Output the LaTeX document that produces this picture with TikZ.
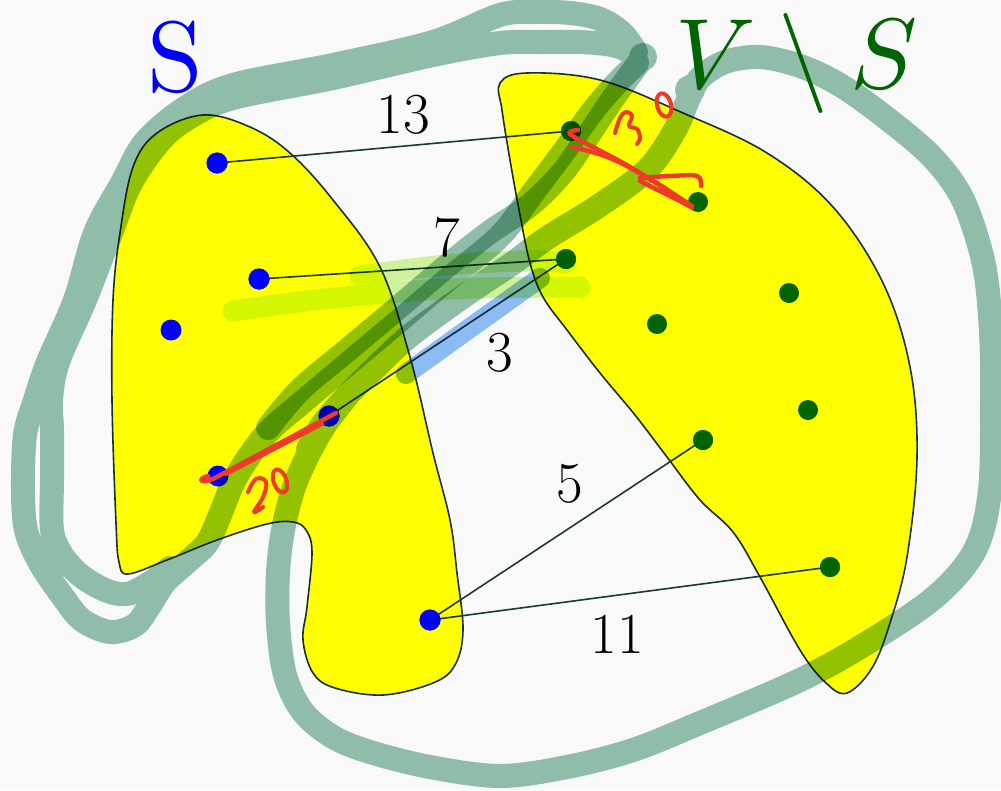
\documentclass[tikz,border=0pt]{standalone}
\usepackage{graphicx}
\definecolor{bgc}{HTML}{F9F9F9}
\definecolor{ylw}{RGB}{255,255,0}
\definecolor{tealpen}{RGB}{147,194,174}
\definecolor{chartpen}{RGB}{212,247,160}
\definecolor{bluepen}{RGB}{143,192,248}
\definecolor{redpen}{RGB}{238,58,43}
\definecolor{edgec}{RGB}{30,55,60}
\definecolor{gdot}{RGB}{0,100,0}
\definecolor{bdot}{RGB}{0,0,255}
\definecolor{outl}{RGB}{28,48,52}
\begin{document}
\begin{tikzpicture}[x=1pt,y=-1pt,
  blob/.style={fill=ylw, draw=outl, line width=1.6pt},
  dotb/.style={circle, fill=bdot, minimum size=21pt, inner sep=0pt},
  dotg/.style={circle, fill=gdot, minimum size=20pt, inner sep=0pt},
  wedge/.style={draw=edgec, line width=1.6pt},
  hl/.style={line width=24pt, line cap=round, line join=round},
  pen/.style={draw=redpen, line width=4.5pt, line cap=round, line join=round},
  num/.style={font=\fontsize{58}{60}\selectfont, inner sep=0pt, anchor=base},
  big/.style={inner sep=0pt, anchor=base}]
\fill[bgc] (0,0) rectangle (1001,790);
\useasboundingbox (0,0) rectangle (1001,790);

% blobs
\draw[blob] plot[smooth cycle, tension=0.6] coordinates {(203,115) (250,127) (290,153) (333,200) (380,267) (410,357) (433,453) (450,520) (457,573) (463,630) (455,665) (433,683) (383,695) (335,688) (313,673) (303,640) (307,607) (312,552) (306,530) (293,522) (267,524) (217,540) (167,560) (128,574) (119,562) (116,523) (112,400) (113,300) (120,233) (133,167) (157,133)};
\draw[blob] plot[smooth cycle, tension=0.6] coordinates {(500,83) (527,73) (600,80) (683,113) (767,153) (833,207) (883,283) (910,367) (917,457) (907,557) (890,623) (872,668) (847,693) (826,683) (800,650) (760,577) (733,532) (700,500) (667,457) (635,415) (600,373) (567,330) (543,297) (530,263) (520,215) (510,160) (502,110)};

% vertices
\node[dotb] (b1) at (217,163) {};
\node[dotb] (b2) at (259,279) {};
\node[dotb] (b3) at (171,330) {};
\node[dotb] (b4) at (329,416) {};
\node[dotb] (b5) at (218,476) {};
\node[dotb] (b6) at (430,620) {};
\node[dotg] (g1) at (571,131) {};
\node[dotg] (g2) at (698,202) {};
\node[dotg] (g3) at (566,259) {};
\node[dotg] (g4) at (789,293) {};
\node[dotg] (g5) at (657,324) {};
\node[dotg] (g6) at (808,410) {};
\node[dotg] (g7) at (703,440) {};
\node[dotg] (g8) at (830,567) {};

% edges
\draw[wedge] (b1.center) -- (g1.center);
\draw[wedge] (b2.center) -- (g3.center);
\draw[wedge] (b4.center) -- (g3.center);
\draw[wedge] (b6.center) -- (g7.center);
\draw[wedge] (b6.center) -- (g8.center);
\node[dotb] at (b1) {};
\node[dotb] at (b2) {};
\node[dotb] at (b4) {};
\node[dotb] at (b6) {};
\node[dotg] at (g1) {};
\node[dotg] at (g3) {};
\node[dotg] at (g7) {};
\node[dotg] at (g8) {};

% highlighter strokes
\begin{scope}[blend mode=multiply]
\draw[hl, draw=chartpen, line width=21pt] plot[smooth, tension=0.6] coordinates {(233,311) (333,298) (447,289) (580,287)}
  plot[smooth, tension=0.6] coordinates {(360,276) (447,265) (530,261) (565,263)};
\draw[hl, draw=bluepen, line width=20pt] plot[smooth, tension=0.6] coordinates {(406,374) (470,328) (540,278)};
% left loop, stroke A
\draw[hl, draw=tealpen] plot[smooth, tension=0.55] coordinates {(636,52) (622,33) (600,19) (570,13) (535,12) (500,15) (433,42) (333,65) (233,85) (185,108) (145,142) (122,183) (95,233) (75,300) (48,362) (35,400) (25,435) (23,490) (26,530) (40,563) (63,597) (82,620) (110,632) (135,625) (150,605) (165,582) (187,562) (207,543) (220,515) (233,483) (250,455) (270,430) (305,400) (350,362) (400,320) (447,280) (500,236) (535,190) (565,150) (592,112) (615,85) (637,63)}
  plot[smooth, tension=0.55] coordinates {(637,63) (630,52) (612,45) (580,42) (540,42) (500,43) (433,55) (333,78) (233,98) (190,117) (161,140) (131,183) (111,233) (85,300) (58,362) (51,400) (52,430) (52,480) (52,530) (62,555) (80,575) (105,590) (127,594) (150,583) (170,568)};
% left loop, stroke B
\draw[hl, draw=tealpen] plot[smooth, tension=0.55] coordinates {(268,428) (300,390) (350,348) (400,306) (447,266) (490,232) (530,205) (563,172) (590,133) (612,100) (643,57)}
  (643,57) circle[radius=2];
% right loop, stroke C
\draw[hl, draw=tealpen] plot[smooth, tension=0.55] coordinates {(308,449) (322,425) (345,398) (375,368) (407,338) (447,308) (480,285) (513,263) (547,238) (597,207) (647,170) (675,130) (688,100) (700,78) (725,62) (760,57) (800,66) (840,85) (885,117) (932,157) (963,200) (984,265) (991,333) (992,400) (990,490) (975,550) (935,597) (867,643) (800,680) (700,723) (633,750) (567,767) (500,776) (430,767) (370,752) (333,737) (303,712) (285,675) (278,623) (278,573) (283,530) (293,490) (307,457) (325,425) (348,395)}
  (690,90) circle[radius=3];
\end{scope}

% red pen
\draw[pen] (208,476) .. controls (197,479) and (200,484) .. (213,479) -- (336,413);
\draw[pen, line width=4pt] (226,474) -- (322,424);
\draw[pen, line width=4pt] plot[smooth, tension=0.7] coordinates {(248,492) (256,479) (266,482) (263,497) (254,512) (263,507)};
\draw[pen, line width=4pt, rotate around={20:(280,481)}] (280,481) ellipse (6.5 and 12);
\draw[pen] plot[smooth, tension=0.6] coordinates {(578,130) (570,132) (576,138) (630,167) (692,206)};
\draw[pen] plot[smooth, tension=0.6] coordinates {(572,147) (610,158) (655,182) (692,207) (676,199) (640,181)};
\draw[pen] plot[smooth, tension=0.6] coordinates {(640,178) (670,176) (697,176) (701,186)};
\draw[pen, line width=4pt] plot[smooth, tension=0.6] coordinates {(615,133) (620,118) (626,112) (632,116) (629,126) (637,129) (640,138) (637,144)};
\draw[pen, line width=4pt, rotate around={15:(664,105)}] (664,105) ellipse (7 and 12);

% weight labels
\node[num] (l13) at (403,133) {13};
\node[num] (l7) at (447,256) {7};
\node[num] (l3) at (500,371) {3};
\node[num] (l5) at (570,502) {5};
\node[num] (l11) at (617,653) {11};

% set labels
\node[big, text=bdot] (lS) at (175,91) {\scalebox{10}{S}};
\node[big, text=gdot] (lVS) at (797,88) {\scalebox{10}{$V\setminus S$}};
\end{tikzpicture}
\end{document}
